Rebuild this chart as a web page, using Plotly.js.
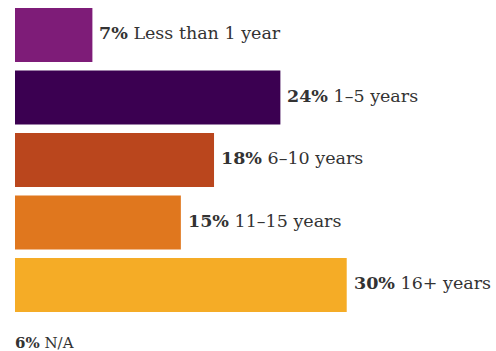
<!DOCTYPE html>
<html>
<head>
<meta charset="utf-8">
<script src="https://cdn.plot.ly/plotly-3.0.1.min.js"></script>
<style>html,body{margin:0;padding:0;background:#fff;}#chart{width:496px;height:351px;}</style>
</head>
<body>
<div id="chart"></div>
<script>
var categories = ["Less than 1 year", "1\u20135 years", "6\u201310 years", "11\u201315 years", "16+ years", "N/A"];
var values = [7, 24, 18, 15, 30, 6];
var colors = ["#7E1C78", "#3B0051", "#BA461D", "#E0771E", "#F5AC26", "rgba(0,0,0,0)"];

var barCats = categories.slice(0, 5);
var barVals = values.slice(0, 5);
var barColors = colors.slice(0, 5);

var trace = {
  type: "bar",
  orientation: "h",
  y: barCats,
  x: barVals,
  marker: {color: barColors},
  width: 0.864,
  hoverinfo: "none"
};

var annotations = barCats.map(function(c, i) {
  return {
    x: barVals[i], y: c, xref: "x", yref: "y",
    xanchor: "left", yanchor: "middle", xshift: 5, yshift: 2,
    text: "<b>" + barVals[i] + "%</b> " + c,
    showarrow: false,
    font: {family: "DejaVu Serif", size: 17.5, color: "#333333"}
  };
});
annotations.push({
  x: 0, y: categories[5], xref: "x", yref: "y",
  xanchor: "left", yanchor: "middle", xshift: -2, yshift: 5,
  text: "<b>" + values[5] + "%</b> " + categories[5],
  showarrow: false,
  font: {family: "DejaVu Serif", size: 15, color: "#333333"}
});

var layout = {
  width: 496, height: 351,
  margin: {l: 15, r: 0, t: 0, b: 0},
  paper_bgcolor: "#ffffff", plot_bgcolor: "#ffffff",
  showlegend: false,
  xaxis: {range: [0, 43.5], visible: false, fixedrange: true},
  yaxis: {type: "category", categoryarray: categories, categoryorder: "array",
          range: [5.056, -0.56], visible: false, fixedrange: true},
  annotations: annotations
};

Plotly.newPlot("chart", [trace], layout, {displayModeBar: false, staticPlot: true});
</script>
</body>
</html>
